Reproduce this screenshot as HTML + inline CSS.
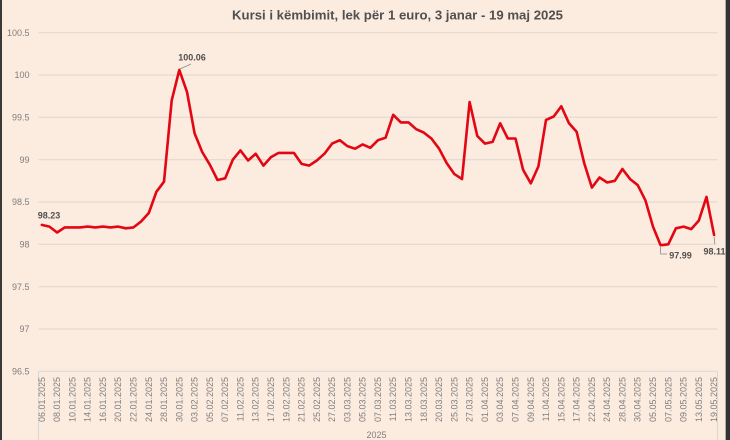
<!DOCTYPE html>
<html><head><meta charset="utf-8"><style>
html,body{margin:0;padding:0;width:730px;height:440px;overflow:hidden;background:#fcebdf;}
svg{display:block;font-family:"Liberation Sans",sans-serif;}
</style></head><body>
<svg width="730" height="440" viewBox="0 0 730 440" xmlns="http://www.w3.org/2000/svg">
<rect x="0" y="0" width="730" height="440" fill="#fcebdf"/>
<rect x="0" y="0" width="2" height="440" fill="#3a3a3a"/>
<rect x="725" y="0" width="1" height="440" fill="#b8aca2"/>
<rect x="726" y="0" width="4" height="440" fill="#333"/>
<text x="232" y="19.5" font-size="13" font-weight="bold" fill="#505050" textLength="331" lengthAdjust="spacingAndGlyphs">Kursi i këmbimit, lek për 1 euro, 3 janar - 19 maj 2025</text>
<g stroke="#dcd6d0" stroke-width="1">
<line x1="38.5" y1="32.7" x2="717.5" y2="32.7"/>
<line x1="38.5" y1="75" x2="717.5" y2="75"/>
<line x1="38.5" y1="117.3" x2="717.5" y2="117.3"/>
<line x1="38.5" y1="159.7" x2="717.5" y2="159.7"/>
<line x1="38.5" y1="202" x2="717.5" y2="202"/>
<line x1="38.5" y1="244.3" x2="717.5" y2="244.3"/>
<line x1="38.5" y1="286.7" x2="717.5" y2="286.7"/>
<line x1="38.5" y1="329" x2="717.5" y2="329"/>
<line x1="38.5" y1="371.3" x2="717.5" y2="371.3"/>
<line x1="38.5" y1="371.3" x2="38.5" y2="440"/>
<line x1="717.5" y1="371.3" x2="717.5" y2="440"/>
</g>
<g font-size="9" fill="#7f7f7f" text-anchor="end">
<text x="29.5" y="35.9">100.5</text>
<text x="29.5" y="78.2">100</text>
<text x="29.5" y="120.5">99.5</text>
<text x="29.5" y="162.9">99</text>
<text x="29.5" y="205.2">98.5</text>
<text x="29.5" y="247.5">98</text>
<text x="29.5" y="289.9">97.5</text>
<text x="29.5" y="332.2">97</text>
<text x="29.5" y="374.5">96.5</text>
</g>
<g font-size="9" fill="#7f7f7f" text-anchor="end">
<text transform="translate(41.8,377) rotate(-90)" dy="3">06.01.2025</text>
<text transform="translate(57.1,377) rotate(-90)" dy="3">08.01.2025</text>
<text transform="translate(72.4,377) rotate(-90)" dy="3">10.01.2025</text>
<text transform="translate(87.6,377) rotate(-90)" dy="3">14.01.2025</text>
<text transform="translate(102.9,377) rotate(-90)" dy="3">16.01.2025</text>
<text transform="translate(118.2,377) rotate(-90)" dy="3">20.01.2025</text>
<text transform="translate(133.5,377) rotate(-90)" dy="3">22.01.2025</text>
<text transform="translate(148.8,377) rotate(-90)" dy="3">24.01.2025</text>
<text transform="translate(164.0,377) rotate(-90)" dy="3">28.01.2025</text>
<text transform="translate(179.3,377) rotate(-90)" dy="3">30.01.2025</text>
<text transform="translate(194.6,377) rotate(-90)" dy="3">03.02.2025</text>
<text transform="translate(209.9,377) rotate(-90)" dy="3">05.02.2025</text>
<text transform="translate(225.2,377) rotate(-90)" dy="3">07.02.2025</text>
<text transform="translate(240.4,377) rotate(-90)" dy="3">11.02.2025</text>
<text transform="translate(255.7,377) rotate(-90)" dy="3">13.02.2025</text>
<text transform="translate(271.0,377) rotate(-90)" dy="3">17.02.2025</text>
<text transform="translate(286.3,377) rotate(-90)" dy="3">19.02.2025</text>
<text transform="translate(301.6,377) rotate(-90)" dy="3">21.02.2025</text>
<text transform="translate(316.8,377) rotate(-90)" dy="3">25.02.2025</text>
<text transform="translate(332.1,377) rotate(-90)" dy="3">27.02.2025</text>
<text transform="translate(347.4,377) rotate(-90)" dy="3">03.03.2025</text>
<text transform="translate(362.7,377) rotate(-90)" dy="3">05.03.2025</text>
<text transform="translate(378.0,377) rotate(-90)" dy="3">07.03.2025</text>
<text transform="translate(393.2,377) rotate(-90)" dy="3">11.03.2025</text>
<text transform="translate(408.5,377) rotate(-90)" dy="3">13.03.2025</text>
<text transform="translate(423.8,377) rotate(-90)" dy="3">18.03.2025</text>
<text transform="translate(439.1,377) rotate(-90)" dy="3">20.03.2025</text>
<text transform="translate(454.4,377) rotate(-90)" dy="3">25.03.2025</text>
<text transform="translate(469.6,377) rotate(-90)" dy="3">27.03.2025</text>
<text transform="translate(484.9,377) rotate(-90)" dy="3">01.04.2025</text>
<text transform="translate(500.2,377) rotate(-90)" dy="3">03.04.2025</text>
<text transform="translate(515.5,377) rotate(-90)" dy="3">07.04.2025</text>
<text transform="translate(530.8,377) rotate(-90)" dy="3">09.04.2025</text>
<text transform="translate(546.0,377) rotate(-90)" dy="3">11.04.2025</text>
<text transform="translate(561.3,377) rotate(-90)" dy="3">15.04.2025</text>
<text transform="translate(576.6,377) rotate(-90)" dy="3">17.04.2025</text>
<text transform="translate(591.9,377) rotate(-90)" dy="3">22.04.2025</text>
<text transform="translate(607.2,377) rotate(-90)" dy="3">24.04.2025</text>
<text transform="translate(622.4,377) rotate(-90)" dy="3">28.04.2025</text>
<text transform="translate(637.7,377) rotate(-90)" dy="3">30.04.2025</text>
<text transform="translate(653.0,377) rotate(-90)" dy="3">05.05.2025</text>
<text transform="translate(668.3,377) rotate(-90)" dy="3">07.05.2025</text>
<text transform="translate(683.6,377) rotate(-90)" dy="3">09.05.2025</text>
<text transform="translate(698.8,377) rotate(-90)" dy="3">13.05.2025</text>
<text transform="translate(714.1,377) rotate(-90)" dy="3">19.05.2025</text>
</g>
<text x="376.5" y="438" font-size="9" fill="#7f7f7f" text-anchor="middle">2025</text>
<polyline fill="none" stroke="#e30613" stroke-width="2.6" stroke-linejoin="round" stroke-linecap="round" points="41.8,224.9 49.4,226.6 57.1,232.5 64.7,227.4 72.4,227.4 80.0,227.4 87.6,226.6 95.3,227.4 102.9,226.6 110.6,227.4 118.2,226.6 125.8,228.3 133.5,227.4 141.1,221.5 148.8,213.0 156.4,191.8 164.0,181.7 171.7,100.4 179.3,69.9 187.0,91.9 194.6,133.4 202.2,152.0 209.9,164.8 217.5,180.0 225.2,178.3 232.8,159.7 240.4,150.4 248.1,160.5 255.7,153.7 263.4,165.6 271.0,157.1 278.6,152.9 286.3,152.9 293.9,152.9 301.6,163.9 309.2,165.6 316.8,160.5 324.5,153.7 332.1,143.6 339.8,140.2 347.4,146.1 355.0,148.7 362.7,144.4 370.3,147.8 378.0,140.2 385.6,137.7 393.2,114.8 400.9,122.4 408.5,122.4 416.2,129.2 423.8,132.6 431.4,138.5 439.1,148.7 446.7,163.1 454.4,174.1 462.0,179.1 469.6,102.1 477.3,136.0 484.9,143.6 492.6,141.9 500.2,123.3 507.8,138.5 515.5,138.5 523.1,169.8 530.8,183.4 538.4,166.4 546.0,119.9 553.7,116.5 561.3,106.3 569.0,123.3 576.6,131.7 584.2,163.1 591.9,187.6 599.5,177.5 607.2,182.5 614.8,180.8 622.4,169.0 630.1,179.1 637.7,185.1 645.4,200.3 653.0,226.6 660.6,245.2 668.3,244.3 675.9,228.3 683.6,226.6 691.2,229.1 698.8,220.6 706.5,196.9 714.1,235.0"/>
<g stroke="#8a8a8a" stroke-width="0.8" fill="none">
<polyline points="180,69 191,64"/>
<polyline points="660.6,247 660.6,254 667,254"/>
<polyline points="714.1,237 714.8,244"/>
</g>
<g font-size="9" font-weight="bold" fill="#505050" text-anchor="middle">
<text x="49" y="218.3">98.23</text>
<text x="192" y="60.7">100.06</text>
<text x="680.5" y="258.5">97.99</text>
<text x="714.5" y="254.5">98.11</text>
</g>
</svg>
</body></html>
